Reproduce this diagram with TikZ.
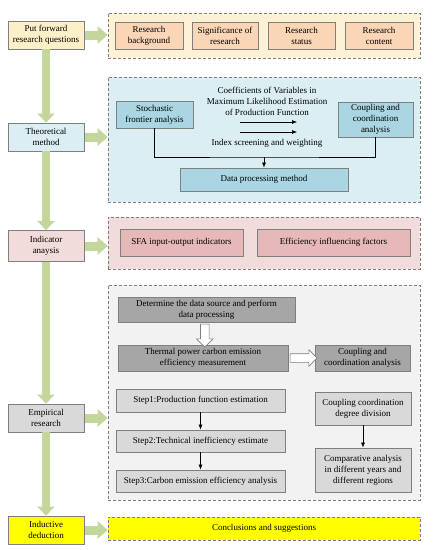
\documentclass[tikz,border=0pt]{standalone}
\usepackage{fontspec}
\setmainfont{Liberation Serif}
\usepackage{xcolor}
\usetikzlibrary{arrows.meta,positioning,calc,shapes.arrows,shadows}

\definecolor{edgegray}{HTML}{7F7F7F}
\definecolor{trunkgreen}{HTML}{C3D69B}
\definecolor{qfill}{HTML}{FDF0C8}
\definecolor{qlight}{HTML}{FDF2D6}
\definecolor{qinner}{HTML}{FAD5B6}
\definecolor{tfill}{HTML}{DBEEF4}
\definecolor{tinner}{HTML}{A9D6E2}
\definecolor{ifill}{HTML}{F2DCDB}
\definecolor{iinner}{HTML}{E6B8B7}
\definecolor{efill}{HTML}{D9D9D9}
\definecolor{elight}{HTML}{F2F2F2}
\definecolor{edark}{HTML}{A6A6A6}
\definecolor{dfill}{HTML}{FFFF00}

\begin{document}
\begin{tikzpicture}[
  x=1pt, y=-1pt,
  >=Latex,
  font=\fontsize{9}{11}\selectfont,
  box/.style={draw=edgegray, line width=0.8pt, align=center, inner sep=1pt},
  stage/.style={box, minimum width=76pt, minimum height=28pt},
  group/.style={draw=edgegray, line width=0.7pt, dash pattern=on 3pt off 2pt, minimum width=312pt},
  item/.style={box, minimum height=27pt},
  darkbox/.style={box, fill=edark, drop shadow={opacity=0.35, shadow xshift=1.2pt, shadow yshift=-1.2pt}},
  trunk/.style={draw=trunkgreen, line width=8pt, -{Triangle[width=17pt,length=9pt]}},
  branch/.style={draw=trunkgreen, line width=9pt, shorten <=1pt, -{Triangle[width=17pt,length=10pt]}},
  arrow/.style={->, line width=0.6pt, >={Latex[length=5pt,width=4pt]}},
  hollow/.style={single arrow, draw=edgegray, fill=white, line width=0.6pt, inner sep=4pt, single arrow head extend=4pt, minimum height=23pt}
]
\useasboundingbox (0,0) rectangle (436,550);

% stages on the left
\node[stage, fill=qfill] (q) at (46,35) {Put forward\\research questions};
\node[stage, fill=tfill] (t) at (46,137) {Theoretical\\method};
\node[stage, fill=ifill, minimum height=31pt] (i) at (46,246) {Indicator\\anaysis};
\node[stage, fill=efill] (e) at (46,418) {Empirical\\research};
\node[stage, fill=dfill] (d) at (46,530) {Inductive\\deduction};

% dashed groups on the right
\node[group, fill=qlight, minimum height=45pt] (g1) at (264,35.5) {};
\node[group, fill=tfill, minimum height=125pt] (g2) at (264,139.5) {};
\node[group, fill=ifill, minimum height=52pt] (g3) at (264,243) {};
\node[group, fill=elight, minimum height=215pt] (g4) at (264,392.5) {};
\node[group, fill=dfill, minimum height=23pt] (g5) at (264,528.5) {Conclusions and suggestions};

\draw[trunk] (q.south) -- (t.north);
\draw[trunk] (t.south) -- (i.north);
\draw[trunk] (i.south) -- (e.north);
\draw[trunk] (e.south) -- (d.north);
\draw[branch] (q.east) -- (q.east -| g1.west);
\draw[branch] (t.east) -- (t.east -| g2.west);
\draw[branch] (i.east) -- (i.east -| g3.west);
\draw[branch] (e.east) -- (e.east -| g4.west);
\draw[branch] (d.east) -- (d.east -| g5.west);

% research questions
\node[item, fill=qinner, minimum width=68pt] (bg) at (149,35.5) {Research\\background};
\node[item, fill=qinner, minimum width=66pt] (sig) at (225,35.5) {Significance of\\research};
\node[item, fill=qinner, minimum width=67pt] (sta) at (301.5,35.5) {Research\\status};
\node[item, fill=qinner, minimum width=68pt] (con) at (379,35.5) {Research\\content};

% theoretical method
\node[item, fill=tinner, minimum width=77pt] (sfa) at (154.5,114.5) {Stochastic\\frontier analysis};
\node[item, fill=tinner, minimum width=75pt, minimum height=35pt] (cca) at (375.5,119.5) {Coupling and\\coordination\\analysis};
\node[item, fill=tinner, minimum width=168pt, minimum height=23pt] (dpm) at (264,179.5) {Data processing method};
\node[align=center] (coef) at (267,101) {Coefficients of Variables in\\Maximum Likelihood Estimation\\of Production Function};
\node (idx) at (267,143.5) {Index screening and weighting};
\coordinate (ma) at (240,122);
\coordinate (mb) at (297,122);
\coordinate (mc) at (240,132);
\coordinate (md) at (297,132);
\coordinate (jn) at (264,157);
\draw[arrow] (ma) -- (mb);
\draw[arrow] (mc) -- (md);
\draw[line width=0.6pt] (sfa.south) |- (jn) -| (cca.south);
\draw[arrow] (jn) -- (dpm.north);

% indicator analysis
\node[item, fill=iinner, minimum width=123pt] (sfaind) at (181.5,242.5) {SFA input-output indicators};
\node[item, fill=iinner, minimum width=153pt] (eff) at (333.5,242.5) {Efficiency influencing factors};

% empirical research
\node[darkbox, minimum width=177pt, minimum height=25pt] (det) at (206.5,309.5) {Determine the data source and perform\\data processing};
\node[darkbox, minimum width=170pt, minimum height=26pt] (thm) at (203,358) {Thermal power carbon emission\\efficiency measurement};
\node[darkbox, minimum width=95pt, minimum height=26pt] (cpl) at (362.5,358) {Coupling and\\coordination analysis};
\node[hollow, rotate=-90] (h1) at ($(det.south)!0.5!(thm.north)$) {};
\node[hollow, minimum height=27pt] (h2) at ($(thm.east)!0.5!(cpl.west)$) {};

\node[item, fill=efill, minimum width=169pt, minimum height=23pt] (s1) at (200.5,400.5) {Step1:Production function estimation};
\node[item, fill=efill, minimum width=169pt, minimum height=22pt] (s2) at (200.5,441) {Step2:Technical inefficiency estimate};
\node[item, fill=efill, minimum width=169pt, minimum height=22pt] (s3) at (200.5,481) {Step3:Carbon emission efficiency analysis};
\node[item, fill=efill, minimum width=96pt, minimum height=33pt] (ccd) at (363,408.5) {Coupling coordination\\degree division};
\node[item, fill=efill, minimum width=96pt, minimum height=44pt] (cmp) at (363,470) {Comparative analysis\\in different years and\\different regions};
\draw[arrow] (s1) -- (s2);
\draw[arrow] (s2) -- (s3);
\draw[arrow] (ccd) -- (cmp);
\end{tikzpicture}
\end{document}
